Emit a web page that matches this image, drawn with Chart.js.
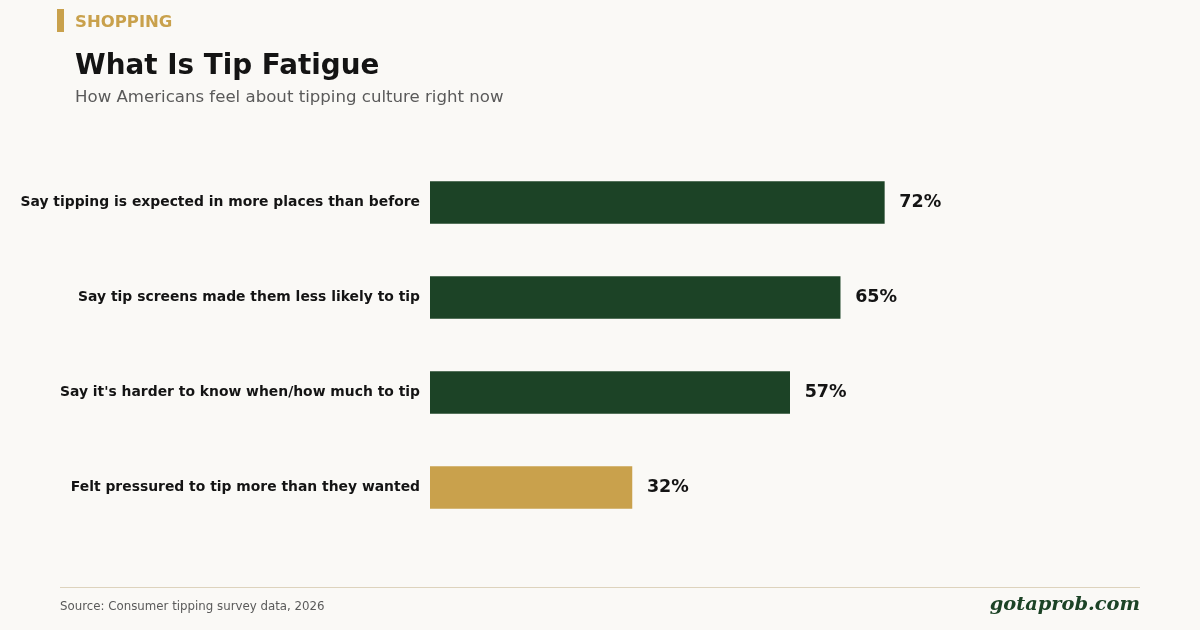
<!DOCTYPE html>
<html>
<head>
<meta charset="utf-8">
<script src="https://cdn.jsdelivr.net/npm/chart.js@4"></script>
<style>
  html, body { margin: 0; padding: 0; background: #faf9f6; }
  body { width: 1200px; height: 630px; position: relative; overflow: hidden; font-family: "DejaVu Sans", sans-serif; }
  #wrap { position: absolute; left: 0; top: 0; width: 1200px; height: 630px; }
  .kicker-bar { position: absolute; left: 57px; top: 9px; width: 7px; height: 23px; background: #c9a14c; }
  .kicker { position: absolute; left: 75px; top: 12px; font-size: 16.5px; font-weight: bold; color: #c9a14c; }
  .title { position: absolute; left: 75px; top: 48px; font-size: 27.8px; font-weight: bold; color: #141414; }
  .subtitle { position: absolute; left: 75px; top: 87px; font-size: 16.6px; color: #5a5a5a; }
  .rule { position: absolute; left: 60px; top: 587px; width: 1080px; height: 1px; background: #ddd3bd; }
  .source { position: absolute; left: 60px; top: 599px; font-size: 11.8px; color: #5a5a5a; }
  .brand { position: absolute; right: 60px; top: 592px; font-family: "DejaVu Serif", serif; font-style: italic; font-weight: bold; font-size: 19.4px; color: #1c4326; }
</style>
</head>
<body>
<div id="wrap"><canvas id="myChart" width="1200" height="630"></canvas></div>
<div class="kicker-bar"></div>
<div class="kicker">SHOPPING</div>
<div class="title">What Is Tip Fatigue</div>
<div class="subtitle">How Americans feel about tipping culture right now</div>
<div class="rule"></div>
<div class="source">Source: Consumer tipping survey data, 2026</div>
<div class="brand">gotaprob.com</div>
<script>
var labels = [
    "Say tipping is expected in more places than before",
    "Say tip screens made them less likely to tip",
    "Say it's harder to know when/how much to tip",
    "Felt pressured to tip more than they wanted"
];
var values = [72, 65, 57, 32];
var barColors = ["#1c4326", "#1c4326", "#1c4326", "#c9a14c"];

// draws "72%" etc. at the end of each bar
var valueLabels = {
    id: 'valueLabels',
    afterDatasetsDraw: function (chart) {
        var ctx = chart.ctx;
        var meta = chart.getDatasetMeta(0);
        ctx.save();
        ctx.font = 'bold 17.5px "DejaVu Sans"';
        ctx.fillStyle = '#141414';
        ctx.textAlign = 'left';
        ctx.textBaseline = 'middle';
        meta.data.forEach(function (bar, i) {
            ctx.fillText(values[i] + '%', bar.x + 15, bar.y);
        });
        ctx.restore();
    }
};

function renderChart() {
    var ctx = document.getElementById("myChart").getContext('2d');
    new Chart(ctx, {
        type: 'bar',
        data: {
            labels: labels,
            datasets: [{
                data: values,
                backgroundColor: barColors,
                barThickness: 42,
                borderWidth: 0
            }]
        },
        options: {
            indexAxis: 'y',
            responsive: false,
            animation: false,
            layout: { padding: { left: 0, right: 139, top: 155, bottom: 95 } },
            plugins: { legend: { display: false }, tooltip: { enabled: false } },
            scales: {
                x: { min: 0, max: 100, display: false, grid: { display: false } },
                y: {
                    grid: { display: false },
                    border: { display: false },
                    afterFit: function (scale) { scale.width = 430; },
                    ticks: {
                        padding: 2,
                        color: '#141414',
                        font: { family: '"DejaVu Sans"', size: 13.9, weight: 'bold' }
                    }
                }
            }
        },
        plugins: [valueLabels]
    });
}
renderChart();
</script>
</body>
</html>
